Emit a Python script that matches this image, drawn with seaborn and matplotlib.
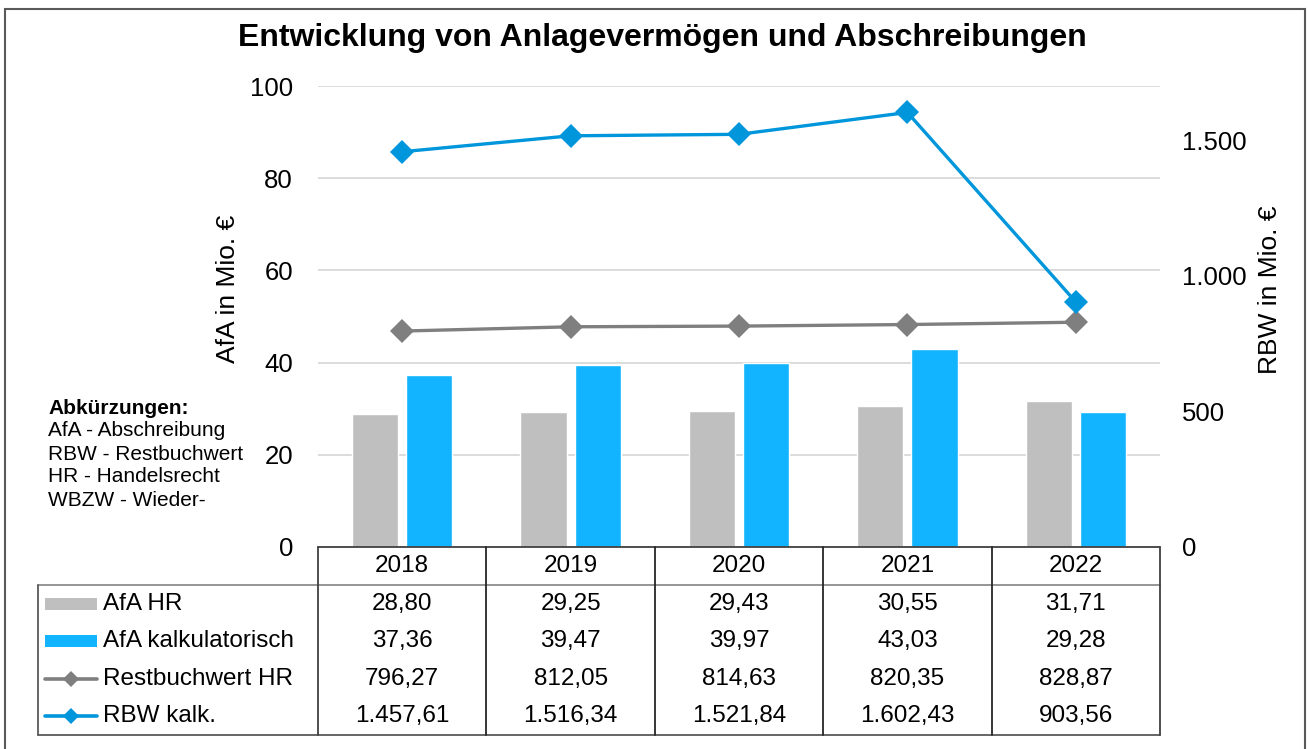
import numpy as np
import pandas as pd
import matplotlib
matplotlib.use("Agg")
import matplotlib.pyplot as plt
from matplotlib.lines import Line2D
from matplotlib.patches import Rectangle
import seaborn as sns

# ---------------- data ----------------
years = ["2018", "2019", "2020", "2021", "2022"]
afa_hr = [28.80, 29.25, 29.43, 30.55, 31.71]
afa_kalk = [37.36, 39.47, 39.97, 43.03, 29.28]
rbw_hr = [796.27, 812.05, 814.63, 820.35, 828.87]
rbw_kalk = [1457.61, 1516.34, 1521.84, 1602.43, 903.56]
series_names = ["AfA HR", "AfA kalkulatorisch", "Restbuchwert HR", "RBW kalk."]
left_ticks = [0, 20, 40, 60, 80, 100]
right_ticks = [0, 500, 1000, 1500]
title = "Entwicklung von Anlagevermögen und Abschreibungen"
left_label = "AfA in Mio. €"
right_label = "RBW in Mio. €"
abbrev_title = "Abkürzungen:"
abbrev_lines = ["AfA - Abschreibung", "RBW - Restbuchwert", "HR - Handelsrecht", "WBZW - Wieder-"]

# ---------------- style ----------------
C_GRAY_BAR = "#BFBFBF"
C_BLUE_BAR = "#12B4FF"
C_GRAY_LINE = "#7F7F7F"
C_BLUE_LINE = "#0096DB"

sns.set_style("white")
plt.rcParams["font.family"] = ["Liberation Sans", "DejaVu Sans"]
plt.rcParams["text.color"] = "black"
plt.rcParams["ytick.color"] = "black"
plt.rcParams["ytick.labelcolor"] = "black"

TAB_SIZE = 17.5

W, H = 1308, 749
fig = plt.figure(figsize=(W / 100, H / 100), dpi=100)


def fx(x):
    return x / W


def fy(y):
    return 1 - y / H


def de_fmt(v, dec=2):
    s = f"{v:,.{dec}f}"
    return s.replace(",", "X").replace(".", ",").replace("X", ".")


# plot area
ax_l, ax_r, ax_t, ax_b = 318, 1160, 86, 547
ax = fig.add_axes([fx(ax_l), fy(ax_b), (ax_r - ax_l) / W, (ax_b - ax_t) / H])

df = pd.DataFrame({
    "Jahr": years * 2,
    "Wert": afa_hr + afa_kalk,
    "Reihe": [series_names[0]] * len(years) + [series_names[1]] * len(years),
})
sns.barplot(data=df, x="Jahr", y="Wert", hue="Reihe", palette=[C_GRAY_BAR, C_BLUE_BAR],
            width=0.643, gap=0.148, saturation=1, errorbar=None, legend=False, ax=ax)
ax.set_xlim(-0.5, len(years) - 0.5)
ax.set_ylim(0, 100)
ax.set_yticks(left_ticks)
ax.set_yticklabels([str(t) for t in left_ticks])
ax.yaxis.grid(True, color="#D9D9D9", linewidth=1.3)
ax.xaxis.grid(False)
ax.set_axisbelow(True)
ax.set_xticks([])
ax.set_xlabel("")
ax.set_ylabel("")
ax.tick_params(axis="y", length=0, pad=18, labelsize=18.5)
for s in ax.spines.values():
    s.set_visible(False)

ax2 = ax.twinx()
xpos = np.arange(len(years))
sns.lineplot(x=xpos, y=rbw_hr, ax=ax2, color=C_GRAY_LINE, linewidth=2.4, marker="D",
             markersize=12, markeredgewidth=0, sort=False)
sns.lineplot(x=xpos, y=rbw_kalk, ax=ax2, color=C_BLUE_LINE, linewidth=2.4, marker="D",
             markersize=12, markeredgewidth=0, sort=False)
ax2.set_ylim(0, 1700)
ax2.set_xlim(-0.5, len(years) - 0.5)
ax2.set_yticks(right_ticks)
ax2.set_yticklabels([de_fmt(t, 0) for t in right_ticks])
ax2.tick_params(axis="y", length=0, pad=16, labelsize=18.5)
ax2.set_ylabel("")
for s in ax2.spines.values():
    s.set_visible(False)
ax2.grid(False)

# title and axis labels
fig.text(fx(662), fy(38), title, ha="center", va="center", fontsize=23, fontweight="bold")
fig.text(fx(228), fy(289), left_label, ha="center", va="center", rotation=90, fontsize=19)
fig.text(fx(1270), fy(290), right_label, ha="center", va="center", rotation=90, fontsize=19)

# abbreviations
fig.text(fx(48), fy(408), abbrev_title, ha="left", va="center", fontsize=15, fontweight="bold")
for i, t in enumerate(abbrev_lines):
    fig.text(fx(48), fy(431 + 23 * i), t, ha="left", va="center", fontsize=15)

# ---------------- data table ----------------
tab_left = 38
hdr_top, hdr_bot = 547, 585
row_h = 37.5
body_bot = hdr_bot + row_h * 4
col_w = (ax_r - ax_l) / len(years)
edges = [ax_l + col_w * i for i in range(len(years) + 1)]


def hline(x0, x1, y, color, lw=1.3):
    fig.add_artist(Line2D([fx(x0), fx(x1)], [fy(y), fy(y)], color=color, lw=lw,
                          transform=fig.transFigure))


def vline(x, y0, y1, color, lw=1.3):
    fig.add_artist(Line2D([fx(x), fx(x)], [fy(y0), fy(y1)], color=color, lw=lw,
                          transform=fig.transFigure))


hline(ax_l, ax_r, hdr_top, "#404040")
hline(tab_left, ax_r, hdr_bot, "#8C8C8C")
hline(tab_left, ax_r, body_bot, "#595959")
vline(tab_left, hdr_bot, body_bot, "#595959")
for i, e in enumerate(edges):
    vline(e, hdr_top, body_bot, "#262626" if 0 < i < len(edges) - 1 else "#404040")

for i, yr in enumerate(years):
    cx = (edges[i] + edges[i + 1]) / 2
    fig.text(fx(cx), fy((hdr_top + hdr_bot) / 2), yr, ha="center", va="center",
             fontsize=TAB_SIZE)

rows = [afa_hr, afa_kalk, rbw_hr, rbw_kalk]
for r, vals in enumerate(rows):
    cy = hdr_bot + row_h * r + row_h / 2
    for i, v in enumerate(vals):
        cx = (edges[i] + edges[i + 1]) / 2
        fig.text(fx(cx), fy(cy), de_fmt(v), ha="center", va="center", fontsize=TAB_SIZE)
    fig.text(fx(103), fy(cy), series_names[r], ha="left", va="center", fontsize=TAB_SIZE)

# legend keys
key_x0, key_x1 = 45, 97
for r, col in enumerate([C_GRAY_BAR, C_BLUE_BAR]):
    cy = hdr_bot + row_h * r + row_h / 2
    fig.add_artist(Rectangle((fx(key_x0), fy(cy + 6)), fx(key_x1 - key_x0), 12 / H,
                             facecolor=col, edgecolor="none", transform=fig.transFigure))
for r, col in [(2, C_GRAY_LINE), (3, C_BLUE_LINE)]:
    cy = hdr_bot + row_h * r + row_h / 2
    fig.add_artist(Line2D([fx(key_x0), fx(key_x1)], [fy(cy), fy(cy)], color=col, lw=2.6,
                          transform=fig.transFigure))
    fig.add_artist(Line2D([fx((key_x0 + key_x1) / 2)], [fy(cy)], color=col, marker="D",
                          markersize=8, markeredgewidth=0, linestyle="none",
                          transform=fig.transFigure))

# outer frame
fig.add_artist(Rectangle((fx(5), -0.02), fx(1300), fy(9) + 0.02, fill=False,
                         edgecolor="#595959", lw=1.5, transform=fig.transFigure))

fig.savefig("out.png", dpi=100)
